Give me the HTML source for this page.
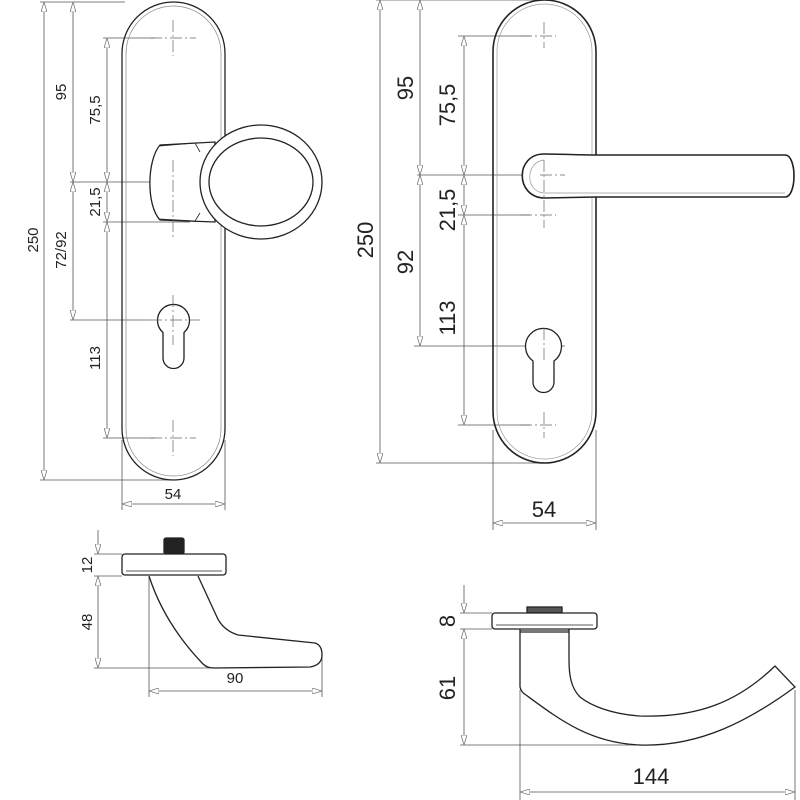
<!DOCTYPE html>
<html><head><style>html,body{margin:0;padding:0;background:#fff}svg{display:block}</style></head>
<body>
<svg width="800" height="800" viewBox="0 0 800 800" xmlns="http://www.w3.org/2000/svg" font-family="Liberation Sans, Arial, sans-serif">
<defs>
<marker id="a" viewBox="0 0 10 6" refX="10" refY="3" markerWidth="10" markerHeight="6" orient="auto-start-reverse" markerUnits="userSpaceOnUse"><path d="M0,0 L10,3 L0,6 Z" fill="#fff" stroke="#777" stroke-width="0.8"/></marker>
</defs>
<g fill="none" stroke="#555" stroke-width="0.8">
<line x1="40" y1="2" x2="125" y2="2"/><line x1="40" y1="480" x2="175" y2="480"/>
<line x1="44" y1="2" x2="44" y2="480" marker-start="url(#a)" marker-end="url(#a)"/>
<line x1="73" y1="2" x2="73" y2="182" marker-start="url(#a)" marker-end="url(#a)"/>
<line x1="73" y1="182" x2="73" y2="320" marker-start="url(#a)" marker-end="url(#a)"/>
<line x1="70" y1="182" x2="205" y2="182"/><line x1="70" y1="320" x2="150" y2="320"/>
<line x1="103" y1="38" x2="155" y2="38"/><line x1="103" y1="222" x2="190" y2="222"/><line x1="103" y1="438" x2="155" y2="438"/>
<line x1="107" y1="38" x2="107" y2="182" marker-start="url(#a)" marker-end="url(#a)"/>
<line x1="107" y1="182" x2="107" y2="222" marker-start="url(#a)" marker-end="url(#a)"/>
<line x1="107" y1="222" x2="107" y2="438" marker-start="url(#a)" marker-end="url(#a)"/>
<line x1="122" y1="440" x2="122" y2="510"/><line x1="225" y1="440" x2="225" y2="510"/>
<line x1="122" y1="504" x2="225" y2="504" marker-start="url(#a)" marker-end="url(#a)"/>
<line x1="376" y1="0" x2="545" y2="0"/><line x1="376" y1="463" x2="545" y2="463"/>
<line x1="380" y1="0" x2="380" y2="463" marker-start="url(#a)" marker-end="url(#a)"/>
<line x1="420" y1="0" x2="420" y2="175" marker-start="url(#a)" marker-end="url(#a)"/>
<line x1="420" y1="175" x2="420" y2="346" marker-start="url(#a)" marker-end="url(#a)"/>
<line x1="417" y1="175" x2="565" y2="175"/><line x1="414" y1="346" x2="565" y2="346"/>
<line x1="458" y1="36" x2="530" y2="36"/><line x1="458" y1="215" x2="530" y2="215"/><line x1="458" y1="425" x2="530" y2="425"/>
<line x1="464" y1="36" x2="464" y2="175" marker-start="url(#a)" marker-end="url(#a)"/>
<line x1="464" y1="175" x2="464" y2="215" marker-start="url(#a)" marker-end="url(#a)"/>
<line x1="464" y1="215" x2="464" y2="425" marker-start="url(#a)" marker-end="url(#a)"/>
<line x1="493" y1="430" x2="493" y2="530"/><line x1="596" y1="430" x2="596" y2="530"/>
<line x1="493" y1="523" x2="596" y2="523" marker-start="url(#a)" marker-end="url(#a)"/>
<line x1="94" y1="554" x2="122" y2="554"/><line x1="94" y1="576" x2="122" y2="576"/><line x1="94" y1="668" x2="210" y2="668"/>
<line x1="98" y1="530" x2="98" y2="554" marker-end="url(#a)"/>
<line x1="98" y1="576" x2="98" y2="668" marker-start="url(#a)" marker-end="url(#a)"/>
<line x1="149" y1="577" x2="149" y2="697"/><line x1="322" y1="655" x2="322" y2="697"/>
<line x1="149" y1="691" x2="322" y2="691" marker-start="url(#a)" marker-end="url(#a)"/>
<line x1="460" y1="613" x2="492" y2="613"/><line x1="460" y1="629" x2="492" y2="629"/><line x1="460" y1="745" x2="640" y2="745"/>
<line x1="464" y1="585" x2="464" y2="613" marker-end="url(#a)"/>
<line x1="464" y1="629" x2="464" y2="745" marker-start="url(#a)" marker-end="url(#a)"/>
<line x1="520" y1="690" x2="520" y2="800"/><line x1="795" y1="690" x2="795" y2="800"/>
<line x1="520" y1="792" x2="795" y2="792" marker-start="url(#a)" marker-end="url(#a)"/>
</g>
<g fill="none" stroke="#222" stroke-width="1.3">
<rect x="122" y="2" width="103" height="478" rx="51.5"/>
<rect x="126" y="6" width="95" height="470" rx="47.5" stroke="#888" stroke-width="0.7"/>
<path d="M163,332.5 A16,16 0 1 1 184,332.5 V358 A10.5,10.5 0 0 1 163,358 Z" fill="#fff"/>
<!-- knob neck -->
<path d="M160,145 C147,160 146,205 160,220 L215,222 L215,142 Z" fill="#fff"/>
<path d="M160,146 L195,143 L200,152 M160,219 L195,221 L200,213" stroke-width="0.8"/>
<ellipse cx="261" cy="182" rx="61" ry="57" fill="#fff"/>
<ellipse cx="261" cy="182" rx="52" ry="44"/>
<rect x="493" y="0" width="103" height="463" rx="51.5" stroke-width="1.6"/>
<rect x="497" y="4" width="95" height="455" rx="47.5" stroke="#999" stroke-width="0.7"/>
<path d="M533,361 A18,18 0 1 1 554,361 V382 A10.5,10.5 0 0 1 533,382 Z" fill="#fff"/>
<path d="M544,154 C560,154 580,155 596,155 L785,155 C797,155 797,197 785,197 L596,197 L544,198 C515,197 515,154 544,154 Z" fill="#fff" stroke-width="1.6"/>
<path d="M544,160 C525,162 525,192 544,193 L785,193" stroke="#999" stroke-width="0.7"/>
<rect x="164" y="538" width="20" height="16" fill="#222" rx="2"/>
<rect x="122" y="554" width="104" height="21" rx="3" fill="#fff"/>
<line x1="126" y1="571" x2="222" y2="571" stroke-width="0.7"/>
<path d="M149,576 C160,610 180,640 203,664 Q207,668 214,668 L310,667 Q322,665 322,655 Q322,645 315,643 L238,635 Q222,630 216,615 L198,576" fill="#fff"/>
<rect x="527" y="607" width="35" height="6" fill="#555"/>
<rect x="492" y="613" width="105" height="16" rx="3" fill="#fff"/>
<line x1="496" y1="625" x2="593" y2="625" stroke-width="0.7"/>
<rect x="520" y="629" width="49" height="4" fill="#777" stroke="none"/>
<path d="M520,629 L520,687 Q521,692 526,695 C560,720 590,743 640,745 C700,747 750,720 795,687 L775,666 C740,700 700,718 640,716 C610,714 590,705 580,697 C571,688 569,675 569,660 L569,629"/>
</g>
<g fill="none" stroke="#666" stroke-width="0.7" stroke-dasharray="12,3,2,3">
<line x1="150" y1="38" x2="196" y2="38"/><line x1="173" y1="20" x2="173" y2="56"/>
<line x1="150" y1="438" x2="196" y2="438"/><line x1="173" y1="420" x2="173" y2="456"/>
<line x1="150" y1="320" x2="200" y2="320"/><line x1="173" y1="295" x2="173" y2="345"/>
<line x1="173" y1="160" x2="173" y2="240"/>
<line x1="520" y1="36" x2="556" y2="36"/><line x1="544" y1="22" x2="544" y2="48"/>
<line x1="520" y1="215" x2="556" y2="215"/><line x1="544" y1="200" x2="544" y2="228"/>
<line x1="520" y1="425" x2="556" y2="425"/><line x1="544" y1="412" x2="544" y2="438"/>
<line x1="544" y1="160" x2="544" y2="200"/><line x1="544" y1="328" x2="544" y2="362"/>
<line x1="540" y1="175" x2="565" y2="175"/>
</g>
<g fill="#222" font-size="15" text-anchor="middle">
<text x="173" y="499">54</text>
<text x="235" y="683">90</text>
<text transform="translate(66,92) rotate(-90)">95</text>
<text transform="translate(66,250) rotate(-90)">72/92</text>
<text transform="translate(38,240) rotate(-90)">250</text>
<text transform="translate(100,110) rotate(-90)">75,5</text>
<text transform="translate(100,202) rotate(-90)">21,5</text>
<text transform="translate(100,358) rotate(-90)">113</text>
<text transform="translate(92,565) rotate(-90)">12</text>
<text transform="translate(92,622) rotate(-90)">48</text>
</g>
<g fill="#222" font-size="22" text-anchor="middle">
<text x="544" y="517">54</text>
<text x="651" y="784">144</text>
<text transform="translate(373,240) rotate(-90)">250</text>
<text transform="translate(413,88) rotate(-90)">95</text>
<text transform="translate(413,262) rotate(-90)">92</text>
<text transform="translate(455,105) rotate(-90)">75,5</text>
<text transform="translate(455,210) rotate(-90)">21,5</text>
<text transform="translate(455,318) rotate(-90)">113</text>
<text transform="translate(455,621) rotate(-90)">8</text>
<text transform="translate(455,688) rotate(-90)">61</text>
</g>
</svg>
</body></html>
